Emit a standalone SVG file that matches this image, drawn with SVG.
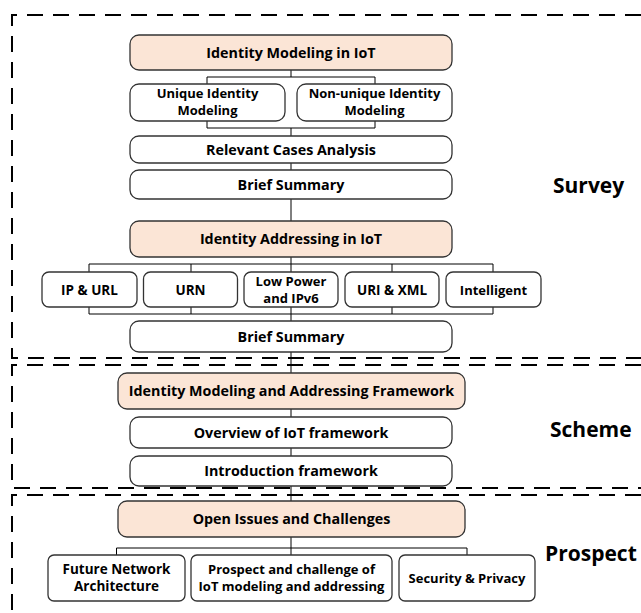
<svg xmlns="http://www.w3.org/2000/svg" width="641" height="613" viewBox="0 0 641 613">
<style>
.frame{fill:none;stroke:#000;stroke-width:2;stroke-dasharray:16 10}
.box{fill:#fff;stroke:#333;stroke-width:1.3}
.hl{fill:#fbe5d6;stroke:#333;stroke-width:1.3}
.t{font-family:"Open Sans","Noto Sans","DejaVu Sans",sans-serif;font-weight:bold;font-size:13px;fill:#000;text-anchor:middle}
.m{font-size:14.3px}
.r{font-size:13.5px}
.lbl{font-family:"Open Sans","Noto Sans","DejaVu Sans",sans-serif;font-weight:bold;font-size:21px;fill:#000}
.c{fill:none;stroke:#000;stroke-width:1}
</style>
<rect width="641" height="613" fill="#fff"/>
<g id="frames">
<path class="frame" d="M641,15 H12 V358 H641"/>
<path class="frame" d="M641,365 H12 V488 H641"/>
<path class="frame" d="M641,495 H12 V620"/>
</g>
<g id="connectors">
<path class="c" d="M291,70 V77 M207,77 H375 M207,77 V128 M375,77 V128 M207,128 H375 M291,128 V221"/>
<path class="c" d="M291,257 V264 M89,264 H493 M89,264 V314 M191,264 V314 M291,264 V314 M392,264 V314 M493,264 V314 M89,314 H493 M291,314 V501"/>
<path class="c" d="M291,537 V548 M116.5,548 H467 M116.5,548 V555 M291,548 V555 M467,548 V555"/>
</g>
<g id="n-modeling"><rect class="hl" x="130" y="35" width="322" height="35" rx="9"/><text class="t m" x="291" y="57.5">Identity Modeling in IoT</text></g>
<g id="n-unique"><rect class="box" x="130" y="84" width="155" height="37" rx="9"/><text class="t" x="207.5" y="98">Unique Identity</text><text class="t" x="207.5" y="115">Modeling</text></g>
<g id="n-nonunique"><rect class="box" x="297" y="84" width="155" height="37" rx="9"/><text class="t" x="374.5" y="98">Non-unique Identity</text><text class="t" x="374.5" y="115">Modeling</text></g>
<g id="n-relevant"><rect class="box" x="130" y="136" width="322" height="27" rx="9"/><text class="t m" x="291" y="154.5">Relevant Cases Analysis</text></g>
<g id="n-brief1"><rect class="box" x="130" y="170" width="322" height="29" rx="9"/><text class="t m" x="291" y="189.5">Brief Summary</text></g>
<g id="n-addressing"><rect class="hl" x="130" y="221" width="322" height="36" rx="9"/><text class="t m" x="291" y="244">Identity Addressing in IoT</text></g>
<g id="n-ipurl"><rect class="box" x="42" y="272" width="95" height="35" rx="7"/><text class="t r" x="89.5" y="294.5">IP &amp; URL</text></g>
<g id="n-urn"><rect class="box" x="143.5" y="272" width="94" height="35" rx="7"/><text class="t r" x="190.5" y="294.5">URN</text></g>
<g id="n-lowpower"><rect class="box" x="244" y="272" width="94" height="35" rx="7"/><text class="t" x="291" y="286">Low Power</text><text class="t" x="291" y="303">and IPv6</text></g>
<g id="n-urixml"><rect class="box" x="345" y="272" width="94" height="35" rx="7"/><text class="t r" x="392" y="294.5">URI &amp; XML</text></g>
<g id="n-intelligent"><rect class="box" x="446" y="272" width="95" height="35" rx="7"/><text class="t" x="493.5" y="294.5">Intelligent</text></g>
<g id="n-brief2"><rect class="box" x="130" y="321" width="322" height="31" rx="9"/><text class="t m" x="291" y="341.5">Brief Summary</text></g>
<g id="n-framework"><rect class="hl" x="118" y="373" width="347" height="36" rx="9"/><text class="t m" x="291.5" y="396">Identity Modeling and Addressing Framework</text></g>
<g id="n-overview"><rect class="box" x="130" y="417" width="322" height="31" rx="9"/><text class="t m" x="291" y="437.5">Overview of IoT framework</text></g>
<g id="n-intro"><rect class="box" x="130" y="456" width="322" height="30" rx="9"/><text class="t m" x="291" y="476">Introduction framework</text></g>
<g id="n-open"><rect class="hl" x="118" y="501" width="347" height="36" rx="9"/><text class="t m" x="291.5" y="524">Open Issues and Challenges</text></g>
<g id="n-future"><rect class="box" x="48" y="555" width="137" height="46" rx="6"/><text class="t r" x="116.5" y="574">Future Network</text><text class="t r" x="116.5" y="591">Architecture</text></g>
<g id="n-prospectchal"><rect class="box" x="191" y="555" width="201" height="46" rx="6"/><text class="t" x="291.5" y="574">Prospect and challenge of</text><text class="t" x="291.5" y="591">IoT modeling and addressing</text></g>
<g id="n-security"><rect class="box" x="399" y="555" width="136" height="46" rx="6"/><text class="t" x="467" y="582.5">Security &amp; Privacy</text></g>
<g id="labels">
<text class="lbl" x="553" y="193">Survey</text>
<text class="lbl" x="550" y="437">Scheme</text>
<text class="lbl" x="545" y="561">Prospect</text>
</g>
</svg>
